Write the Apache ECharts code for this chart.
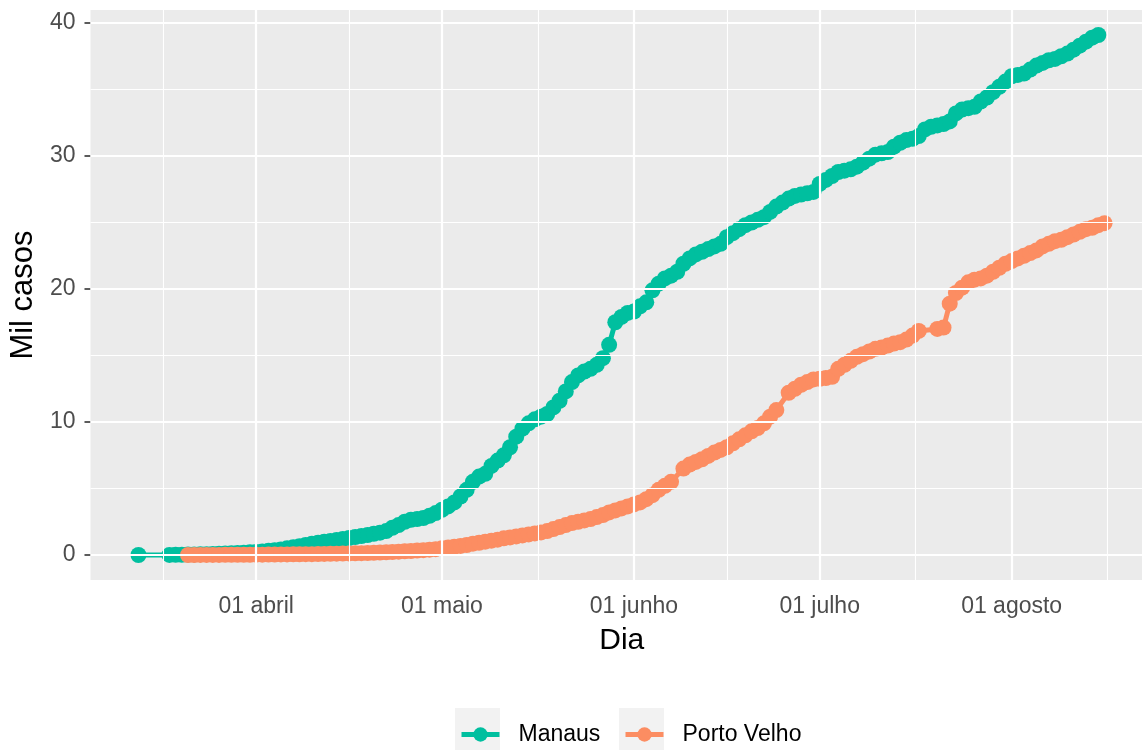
<!DOCTYPE html>
<html><head><meta charset="utf-8">
<script src="https://cdn.jsdelivr.net/npm/echarts@6/dist/echarts.min.js"></script>
<style>html,body{margin:0;padding:0;background:#fff}#chart{width:1142px;height:750px}</style>
</head><body><div id="chart"></div>
<script>
// ---- data ----
const monthTicks = ['2020-04-01','2020-05-01','2020-06-01','2020-07-01','2020-08-01'];
const monthLabels = ['01 abril','01 maio','01 junho','01 julho','01 agosto'];
const minorTicks = ['2020-03-17','2020-04-16','2020-05-16 12:00','2020-06-16','2020-07-16 12:00','2020-08-16 12:00'];
const yTicks = [0, 10, 20, 30, 40];
const yMinor = [5, 15, 25, 35];
const seriesNames = ['Manaus', 'Porto Velho'];

const manausFirstDate = '2020-03-13';
const manausFirstValue = 0.001;
const manausStart = '2020-03-18';
const manausCases = [
  0.005,0.01,0.02,0.03,0.04,0.05,0.06,0.08,0.1,0.11,0.13,0.15,0.17,0.2,
  0.23,0.27,0.31,0.36,0.42,0.5,0.58,0.66,0.75,0.84,0.92,
  1.0,1.05,1.12,1.2,1.27,1.35,1.42,1.5,1.6,1.68,
  1.8,2.05,2.25,2.5,2.65,2.7,2.78,2.95,3.15,3.4,
  3.65,3.95,4.4,4.9,5.5,5.9,6.1,6.7,7.1,7.5,
  8.1,8.9,9.5,9.9,10.2,10.4,10.6,11.1,11.6,12.3,
  13.0,13.5,13.8,14.0,14.3,14.8,15.8,17.5,17.9,18.2,
  18.3,18.7,19.0,19.9,20.4,20.8,21.0,21.3,21.9,22.3,
  22.6,22.8,23.0,23.2,23.4,23.9,24.2,24.5,24.8,25.0,
  25.2,25.4,25.8,26.2,26.5,26.8,27.0,27.1,27.2,27.3,
  27.9,28.2,28.5,28.8,28.9,29.0,29.2,29.5,29.8,30.1,
  30.2,30.3,30.7,31.0,31.2,31.3,31.5,32.0,32.2,32.3,
  32.4,32.6,33.2,33.5,33.6,33.7,34.1,34.4,34.8,35.2,
  35.6,36.0,36.1,36.2,36.5,36.8,37.0,37.2,37.3,37.5,
  37.7,38.0,38.3,38.6,38.9,39.1
];

const pvStart = '2020-03-21';
const pvCases = [
  0.001,0.002,0.003,0.005,0.006,0.008,0.01,0.012,0.015,0.018,0.02,
  0.022,0.025,0.03,0.035,0.04,0.045,0.05,0.055,0.06,0.065,0.07,
  0.08,0.09,0.1,0.11,0.12,0.13,0.14,0.15,0.16,0.18,
  0.2,0.22,0.25,0.28,0.3,0.33,0.36,0.4,0.44,0.5,
  0.56,0.62,0.68,0.75,0.85,0.92,1.0,1.08,1.15,1.25,
  1.32,1.4,1.47,1.55,1.62,1.7,1.8,1.95,2.1,2.25,
  2.4,2.5,2.6,2.7,2.85,3.0,3.2,3.35,3.5,3.65,
  3.8,3.95,4.2,4.5,4.9,5.2,5.5,null,6.5,6.8,
  7.0,7.2,7.45,7.7,7.9,8.1,8.4,8.7,9.0,9.3,
  9.55,9.9,10.4,10.9,null,12.2,12.5,12.8,13.0,13.2,
  13.25,13.3,13.4,14.0,14.3,14.6,14.9,15.1,15.3,15.5,
  15.6,15.75,15.9,16.0,16.2,16.5,16.85,null,null,17.0,
  17.1,18.9,19.7,20.1,20.5,20.7,20.8,21.0,21.3,21.6,
  21.9,22.1,22.3,22.5,22.7,22.9,23.2,23.4,23.6,23.7,
  23.9,24.1,24.3,24.5,24.6,24.8,24.95
];

// ---- helpers ----
function ts(s) {
  const [datePart, timePart] = s.split(' ');
  const [y, m, d] = datePart.split('-').map(Number);
  let h = 0, mi = 0;
  if (timePart) { [h, mi] = timePart.split(':').map(Number); }
  return new Date(y, m - 1, d, h, mi).getTime();
}
function daily(start, values) {
  const [y, m, d] = start.split('-').map(Number);
  const out = [];
  values.forEach((v, i) => {
    if (v === null) return;
    out.push([new Date(y, m - 1, d + i).getTime(), v]);
  });
  return out;
}
const DAY = 86400000;
const apr1 = ts('2020-04-01');
const xMin = apr1 - 26.75 * DAY;
const xMax = apr1 + 143.05 * DAY;
const majorX = monthTicks.map(ts);
const minorX = minorTicks.map(ts);

const manausData = [[ts(manausFirstDate), manausFirstValue]].concat(daily(manausStart, manausCases));
const pvData = daily(pvStart, pvCases);

const FONT = 'Liberation Sans, Arial, sans-serif';
const colors = ['#00BF9F', '#FC8D62'];

const gridLines = []
  .concat(minorX.map(v => ({ xAxis: v, lineStyle: { width: 1.1 } })))
  .concat(majorX.map(v => ({ xAxis: v, lineStyle: { width: 2.2 } })))
  .concat(yMinor.map(v => ({ yAxis: v, lineStyle: { width: 1.1 } })))
  .concat(yTicks.map(v => ({ yAxis: v, lineStyle: { width: 2.2 } })));

const chart = echarts.init(document.getElementById('chart'), null, { renderer: 'canvas' });
chart.setOption({
  animation: false,
  backgroundColor: '#ffffff',
  textStyle: { fontFamily: FONT },
  grid: { left: 89, top: 10, right: 0, bottom: 170, show: true, backgroundColor: '#EBEBEB', borderWidth: 0 },
  xAxis: {
    type: 'value', min: xMin, max: xMax, scale: true,
    name: 'Dia', nameLocation: 'middle', nameGap: 46,
    nameTextStyle: { fontSize: 30, color: '#000', fontFamily: FONT, padding: [0, 0, 0, 11] },
    axisLine: { show: false },
    axisTick: { show: true, length: 6, customValues: majorX, lineStyle: { color: '#333', width: 1.6 } },
    axisLabel: {
      customValues: majorX, margin: 15, fontSize: 23, color: '#4D4D4D', fontFamily: FONT,
      formatter: function (v) {
        let best = 0, bd = Infinity;
        majorX.forEach((m, i) => { const dd = Math.abs(m - v); if (dd < bd) { bd = dd; best = i; } });
        return monthLabels[best];
      }
    },
    splitLine: { show: false }
  },
  yAxis: {
    type: 'value', min: -1.88, max: 40.98,
    name: 'Mil casos', nameLocation: 'middle', nameGap: 47, nameRotate: 90,
    nameTextStyle: { fontSize: 31, color: '#000', fontFamily: FONT },
    axisLine: { show: false },
    axisTick: { show: true, length: 6, customValues: yTicks, lineStyle: { color: '#333', width: 1.6 } },
    axisLabel: { customValues: yTicks, margin: 15, fontSize: 23, color: '#4D4D4D', fontFamily: FONT },
    splitLine: { show: false }
  },
  legend: [
    { data: [seriesNames[0]], left: 459, top: 723, padding: 0, itemWidth: 38, itemHeight: 18, selectedMode: false,
      lineStyle: { width: 5 },
      textStyle: { fontSize: 23, color: '#000', fontFamily: FONT, padding: [0, 0, 0, 14] } },
    { data: [seriesNames[1]], left: 623, top: 723, padding: 0, itemWidth: 38, itemHeight: 18, selectedMode: false,
      lineStyle: { width: 5 },
      textStyle: { fontSize: 23, color: '#000', fontFamily: FONT, padding: [0, 0, 0, 14] } }
  ],
  graphic: [
    { type: 'rect', left: 455, top: 708, shape: { width: 45, height: 45 }, style: { fill: '#F2F2F2' }, z: 1 },
    { type: 'rect', left: 619, top: 708, shape: { width: 45, height: 45 }, style: { fill: '#F2F2F2' }, z: 1 }
  ],
  series: [
    {
      name: '_grid', type: 'line', data: [], z: 1, silent: true,
      markLine: { silent: true, symbol: 'none', animation: false, label: { show: false },
        lineStyle: { color: '#FFFFFF', type: 'solid' }, emphasis: { disabled: true }, data: gridLines }
    },
    {
      name: seriesNames[0], type: 'line', data: manausData, z: 3,
      symbol: 'circle', symbolSize: 16, showSymbol: true, showAllSymbol: true,
      itemStyle: { color: colors[0] }, lineStyle: { color: colors[0], width: 5 }
    },
    {
      name: seriesNames[1], type: 'line', data: pvData, z: 4,
      symbol: 'circle', symbolSize: 16, showSymbol: true, showAllSymbol: true,
      itemStyle: { color: colors[1] }, lineStyle: { color: colors[1], width: 5 }
    }
  ]
});
</script></body></html>
